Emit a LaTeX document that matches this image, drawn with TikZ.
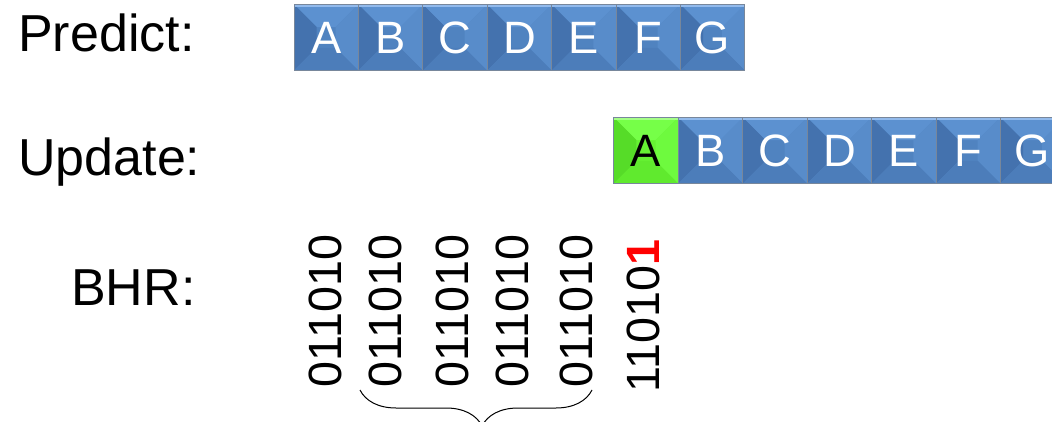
\documentclass[tikz,border=0pt]{standalone}
\usepackage{fontspec}
\setmainfont{Liberation Sans}
\usepackage{tikz}
\usetikzlibrary{calc,decorations.pathreplacing}
\usepackage{xcolor}

\definecolor{faceblue}{RGB}{80,131,192}
\definecolor{topblue}{RGB}{92,145,208}
\definecolor{leftblue}{RGB}{68,114,174}
\definecolor{rightblue}{RGB}{88,140,202}
\definecolor{botblue}{RGB}{76,125,186}
\definecolor{stripblue}{RGB}{146,186,236}
\definecolor{facegreen}{RGB}{102,242,51}
\definecolor{topgreen}{RGB}{118,255,72}
\definecolor{leftgreen}{RGB}{86,220,40}
\definecolor{rightgreen}{RGB}{110,250,62}
\definecolor{botgreen}{RGB}{96,234,46}
\definecolor{stripgreen}{RGB}{165,255,135}
\definecolor{rimgray}{RGB}{120,135,155}

\tikzset{
  bevel/.style n args={6}{
    minimum width=48.3pt, minimum height=49.5pt, inner sep=0pt,
    draw=rimgray, line width=0.6pt,
    font=\fontsize{34}{34}\selectfont,
    path picture={
      \path (path picture bounding box.north west) coordinate (bnw)
            (path picture bounding box.south east) coordinate (bse);
      \fill[#1] (bnw) rectangle (bse);
      \fill[#2] (bnw) -- (bnw -| bse) -- ($(bnw -| bse)+(-17pt,-17pt)$)
                -- ($(bnw)+(17pt,-17pt)$) -- cycle;
      \fill[#3] (bnw) -- ($(bnw)+(17pt,-17pt)$) -- ($(bse -| bnw)+(17pt,17pt)$)
                -- (bse -| bnw) -- cycle;
      \fill[#4] (bnw -| bse) -- (bse) -- ($(bse)+(-17pt,17pt)$)
                -- ($(bnw -| bse)+(-17pt,-17pt)$) -- cycle;
      \fill[#5] (bse -| bnw) -- (bse) -- ($(bse)+(-17pt,17pt)$)
                -- ($(bse -| bnw)+(17pt,17pt)$) -- cycle;
      \fill[#6] (bnw) rectangle ($(bnw -| bse)+(0,-2.2pt)$);
    }},
  blueblk/.style={bevel={faceblue}{topblue}{leftblue}{rightblue}{botblue}{stripblue}, text=white},
  greenblk/.style={bevel={facegreen}{topgreen}{leftgreen}{rightgreen}{botgreen}{stripgreen}, text=black},
  rowlabel/.style={anchor=base west, inner sep=0pt, font=\fontsize{39}{39}\selectfont},
  bits/.style={rotate=90, inner sep=0pt, font=\fontsize{35}{35}\selectfont}
}

\begin{document}
\begin{tikzpicture}[x=0.75pt,y=0.75pt]

\useasboundingbox (0,0) rectangle (1052,421);
\clip (0,0) rectangle (1052,421);

% Row labels
\node[rowlabel] (predict) at (18,369) {Predict:};
\node[rowlabel] (update) at (18,245) {Update:};
\node[rowlabel] (bhr) at (71,115) {BHR:};

% Predict row
\foreach \l [count=\i] in {A,B,C,D,E,F,G}
  \node[blueblk] (p\i) at ({294+64.4*(\i-0.5)},383.5) {\l};

% Update row, first entry already resolved
\node[greenblk] (u1) at (646,270.5) {A};
\foreach \l [count=\i from 2] in {B,C,D,E,F,G}
  \node[blueblk] (u\i) at ({614+64.4*(\i-0.5)},270.5) {\l};

% BHR snapshots
\node[bits] (h1) at (325,110) {011010};
\foreach \x [count=\i from 2] in {385,452,512,576}
  \node[bits] (h\i) at (\x,110) {011010};
\node[bits] (h6) at (643,105) {11010\textcolor{red}{\textbf{1}}};

% Brace under the repeated copies
\coordinate (brL) at (360,31);
\coordinate (brR) at (592,31);
\draw[line width=0.75pt, decorate,
      decoration={brace, mirror, amplitude=27pt, aspect=0.526}] (brL) -- (brR);

\end{tikzpicture}
\end{document}
